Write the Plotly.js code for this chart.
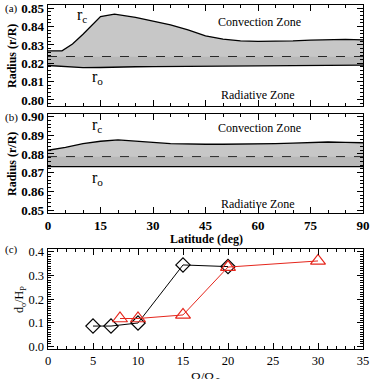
<!DOCTYPE html>
<html><head><meta charset="utf-8">
<script src="https://cdn.plot.ly/plotly-3.0.1.min.js"></script>
</head><body style="margin:0"><div id="g" style="width:371px;height:379px"></div>
<script>
// Panel (a)
const latA = [0, 4, 7, 10, 15, 19, 25, 30, 35, 40, 45, 50, 55, 60, 65, 70, 75, 80, 85, 90];
const rcA  = [0.8268, 0.8268, 0.8305, 0.8358, 0.8455, 0.8468, 0.8450, 0.8432, 0.8410, 0.8382, 0.8350, 0.8332, 0.8322, 0.8320, 0.8320, 0.8322, 0.8326, 0.8330, 0.8330, 0.8328];
const roA  = [0.8188, 0.8183, 0.8178, 0.8176, 0.8177, 0.8180, 0.8181, 0.8182, 0.8183, 0.8183, 0.8184, 0.8184, 0.8185, 0.8185, 0.8186, 0.8187, 0.8188, 0.8189, 0.8190, 0.8190];
const midA = [0.8237, 0.8237, 0.8237, 0.8237, 0.8237, 0.8237, 0.8237, 0.8237, 0.8237, 0.8237, 0.8237, 0.8237, 0.8237, 0.8237, 0.8237, 0.8237, 0.8237, 0.8237, 0.8237, 0.8237];
// Panel (b)
const latB = [0, 5, 10, 15, 20, 25, 30, 35, 40, 45, 50, 55, 60, 65, 70, 75, 80, 85, 90];
const rcB  = [0.8820, 0.8835, 0.8855, 0.8868, 0.8875, 0.8870, 0.8862, 0.8855, 0.8852, 0.8852, 0.8852, 0.8852, 0.8853, 0.8855, 0.8858, 0.8862, 0.8864, 0.8862, 0.8860];
const roB  = [0.8732, 0.8732, 0.8732, 0.8732, 0.8732, 0.8732, 0.8732, 0.8732, 0.8732, 0.8732, 0.8732, 0.8732, 0.8732, 0.8732, 0.8732, 0.8732, 0.8732, 0.8732, 0.8732];
const midB = [0.8786, 0.8786, 0.8786, 0.8786, 0.8786, 0.8786, 0.8786, 0.8786, 0.8786, 0.8786, 0.8786, 0.8786, 0.8786, 0.8786, 0.8786, 0.8786, 0.8786, 0.8786, 0.8786];
// Panel (c)
const omegaBlack = [5, 7, 10, 15, 20];
const dBlack     = [0.086, 0.086, 0.099, 0.345, 0.338];
const omegaRed   = [8, 10, 15, 20, 30];
const dRed       = [0.118, 0.118, 0.133, 0.336, 0.362];

const FONT = 'Liberation Serif';
const L = 48, T = 5, W = 315, BOT = 349, H = 344;
const px = p => (p - L) / W;
const py = p => (BOT - p) / H;

function band(x, lo, mid, hi, xa, ya) {
  return [
    {x: x, y: lo, xaxis: xa, yaxis: ya, mode: 'lines', line: {color: '#000', width: 1.3}, hoverinfo: 'skip', showlegend: false},
    {x: x, y: mid, xaxis: xa, yaxis: ya, mode: 'lines', fill: 'tonexty', fillcolor: 'rgba(0,0,0,0.28)',
     line: {color: '#000', width: 0.8, dash: 'dash'}, hoverinfo: 'skip', showlegend: false},
    {x: x, y: hi, xaxis: xa, yaxis: ya, mode: 'lines', fill: 'tonexty', fillcolor: 'rgba(0,0,0,0.22)',
     line: {color: '#000', width: 1.3}, hoverinfo: 'skip', showlegend: false}
  ];
}

const traces = [].concat(
  band(latA, roA, midA, rcA, 'x', 'y'),
  band(latB, roB, midB, rcB, 'x2', 'y2'),
  [
    {x: omegaBlack, y: dBlack, xaxis: 'x3', yaxis: 'y3', mode: 'lines+markers',
     line: {color: '#000', width: 1}, marker: {symbol: 'diamond-open', size: 11, color: '#000', line: {width: 1.2}}, showlegend: false},
    {x: omegaRed, y: dRed, xaxis: 'x3', yaxis: 'y3', mode: 'lines+markers',
     line: {color: '#e5261c', width: 1}, marker: {symbol: 'triangle-up-open', size: 13, color: '#e5261c', line: {width: 1.2}}, showlegend: false}
  ]
);

const tf = {family: FONT, size: 13, color: '#000', weight: 'bold'};
const tfc = {family: FONT, size: 12.5, color: '#000'};
function ax(extra) {
  return Object.assign({
    showline: true, linecolor: '#000', linewidth: 1.4, mirror: 'allticks',
    ticks: 'inside', ticklen: 6, tickwidth: 1, tickcolor: '#000',
    showgrid: false, zeroline: false, fixedrange: true
  }, extra);
}

const layout = {
  width: 371, height: 379,
  margin: {l: L, r: 371 - L - W, t: T, b: 379 - BOT},
  showlegend: false,
  xaxis: ax({domain: [0, 1], anchor: 'y', range: [0, 90], dtick: 15, showticklabels: false,
    minor: {dtick: 5, ticks: 'inside', ticklen: 3, tickcolor: '#000'}}),
  yaxis: ax({domain: [py(106), 1], anchor: 'x', range: [0.7967, 0.8518], dtick: 0.01, tickformat: '.2f', tickfont: tf,
    minor: {dtick: 0.002, ticks: 'inside', ticklen: 3, tickcolor: '#000'}}),
  xaxis2: ax({domain: [0, 1], anchor: 'y2', range: [0, 90], dtick: 15, tickfont: tf,
    minor: {dtick: 5, ticks: 'inside', ticklen: 3, tickcolor: '#000'}}),
  yaxis2: ax({domain: [py(213), py(114)], anchor: 'x2', range: [0.8484, 0.9014], dtick: 0.01, tickformat: '.2f', tickfont: tf,
    minor: {dtick: 0.002, ticks: 'inside', ticklen: 3, tickcolor: '#000'}}),
  xaxis3: ax({domain: [0, 1], anchor: 'y3', range: [0, 35], dtick: 5, tickfont: tfc,
    minor: {dtick: 1, ticks: 'inside', ticklen: 3, tickcolor: '#000'}}),
  yaxis3: ax({domain: [0, py(249)], anchor: 'x3', range: [-0.0113, 0.4126], dtick: 0.1, tickformat: '.1f', tickfont: tfc,
    minor: {dtick: 0.01, ticks: 'inside', ticklen: 3, tickcolor: '#000'}}),
  annotations: [
    {text: '(a)', xref: 'paper', yref: 'paper', x: px(3), y: py(8), xanchor: 'left', yanchor: 'middle', showarrow: false, font: {family: FONT, size: 11, color: '#000'}},
    {text: '(b)', xref: 'paper', yref: 'paper', x: px(3), y: py(117), xanchor: 'left', yanchor: 'middle', showarrow: false, font: {family: FONT, size: 11, color: '#000'}},
    {text: '(c)', xref: 'paper', yref: 'paper', x: px(3), y: py(250), xanchor: 'left', yanchor: 'middle', showarrow: false, font: {family: FONT, size: 11, color: '#000'}},
    {text: 'Radius (r/R)', xref: 'paper', yref: 'paper', x: px(12), y: py(56), textangle: -90, xanchor: 'center', yanchor: 'middle', showarrow: false, font: {family: FONT, size: 12, weight: 'bold', color: '#000'}},
    {text: 'Radius (r/R)', xref: 'paper', yref: 'paper', x: px(12), y: py(164), textangle: -90, xanchor: 'center', yanchor: 'middle', showarrow: false, font: {family: FONT, size: 12, weight: 'bold', color: '#000'}},
    {text: 'Latitude (deg)', xref: 'paper', yref: 'paper', x: px(206), y: py(239), xanchor: 'center', yanchor: 'middle', showarrow: false, font: {family: FONT, size: 12, weight: 'bold', color: '#000'}},
    {text: 'd<sub>o</sub>/H<sub>P</sub>', xref: 'paper', yref: 'paper', x: px(20), y: py(300), textangle: -90, xanchor: 'center', yanchor: 'middle', showarrow: false, font: {family: FONT, size: 12, color: '#000'}},
    {text: 'Ω/Ω<sub>⊙</sub>', xref: 'paper', yref: 'paper', x: px(206), y: py(377), xanchor: 'center', yanchor: 'middle', showarrow: false, font: {family: FONT, size: 13, color: '#000'}},
    {text: 'r<sub>c</sub>', xref: 'x', yref: 'y', x: 9.8, y: 0.8462, showarrow: false, font: {family: FONT, size: 16, color: '#000'}},
    {text: 'r<sub>o</sub>', xref: 'x', yref: 'y', x: 14, y: 0.8125, showarrow: false, font: {family: FONT, size: 16, color: '#000'}},
    {text: 'Convection Zone', xref: 'x', yref: 'y', x: 60.5, y: 0.8425, showarrow: false, font: {family: FONT, size: 12, color: '#000'}},
    {text: 'Radiative Zone', xref: 'x', yref: 'y', x: 60, y: 0.8025, showarrow: false, font: {family: FONT, size: 12, color: '#000'}},
    {text: 'r<sub>c</sub>', xref: 'x2', yref: 'y2', x: 14, y: 0.8955, showarrow: false, font: {family: FONT, size: 16, color: '#000'}},
    {text: 'r<sub>o</sub>', xref: 'x2', yref: 'y2', x: 14, y: 0.8668, showarrow: false, font: {family: FONT, size: 16, color: '#000'}},
    {text: 'Convection Zone', xref: 'x2', yref: 'y2', x: 60.5, y: 0.8937, showarrow: false, font: {family: FONT, size: 12, color: '#000'}},
    {text: 'Radiative Zone', xref: 'x2', yref: 'y2', x: 60, y: 0.8534, showarrow: false, font: {family: FONT, size: 12, color: '#000'}}
  ]
};

Plotly.newPlot('g', traces, layout, {staticPlot: true});
</script>
</body></html>
